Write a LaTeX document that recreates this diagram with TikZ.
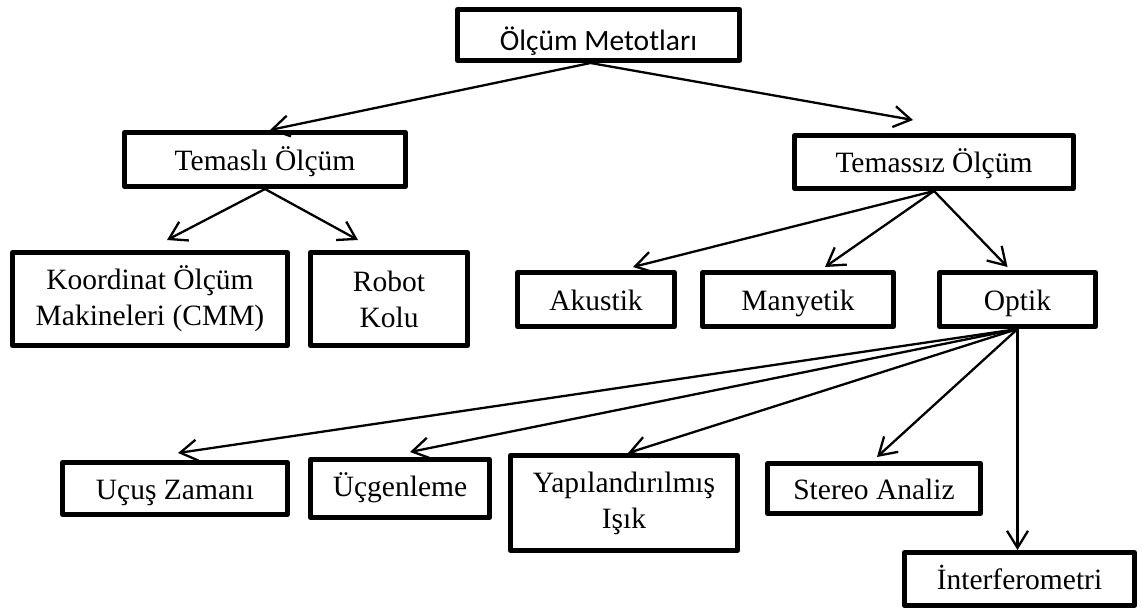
\documentclass[tikz,border=0pt]{standalone}
\usepackage{fontspec}
\setmainfont{Liberation Serif}
\newfontfamily\calibrifont{Carlito}
\usetikzlibrary{positioning}
\usetikzlibrary{arrows.meta}

\begin{document}
\begin{tikzpicture}[
                    x=1pt, y=-1pt,
                    line width=2.3pt,
                    ->, >={Straight Barb[length=17pt,width=21pt]},
                    kutu/.style={draw, rectangle, line width=5pt, line join=round,
                                 inner sep=2pt, align=center,
                                 font=\fontsize{29.5}{36}\selectfont},
                    tek/.style={text height=26pt, text depth=5pt}
                    ]
    \useasboundingbox (0,0) rectangle (1142,614);

    \node[kutu, minimum width=282pt, minimum height=51pt, text height=30pt, text depth=0pt,
          font=\calibrifont\fontsize{29.5}{36}\selectfont]              (metot)    at (598.5,35)  {Ölçüm Metotları};
    \node[kutu, tek, minimum width=281pt, minimum height=54pt]           (temasli)  at (265,159.5) {Temaslı Ölçüm};
    \node[kutu, tek, minimum width=279pt, minimum height=53pt]           (temassiz) at (934,162)   {Temassız Ölçüm};

    \node[kutu, minimum width=275pt, minimum height=93pt]                (koord)    at (150,299)   {Koordinat Ölçüm\\Makineleri (CMM)};
    \node[kutu, minimum width=157pt, minimum height=93pt, right=18pt of koord]         (robot)    {Robot\\Kolu};
    \node[kutu, tek, minimum width=157pt, minimum height=54pt]           (akustik)  at (596,299.5) {Akustik};
    \node[kutu, tek, minimum width=191pt, minimum height=54pt, right=23pt of akustik]  (manyetik) {Manyetik};
    \node[kutu, tek, minimum width=156pt, minimum height=54pt, right=41pt of manyetik] (optik)    {Optik};

    \node[kutu, tek, minimum width=225pt, minimum height=52pt]           (ucus)     at (175,488.5) {Uçuş Zamanı};
    \node[kutu, tek, minimum width=179pt, minimum height=58pt, right=18pt of ucus,
          text height=23pt, text depth=8pt]                              (ucgen)    {Üçgenleme};
    \node[kutu, minimum width=227pt, minimum height=95pt]                (yapi)     at (624,503)   {Yapılandırılmış\\Işık};
    \node[kutu, tek, minimum width=213pt, minimum height=50pt]           (stereo)   at (874,488.5) {Stereo Analiz};
    \node[kutu, tek, minimum width=230pt, minimum height=53pt]           (interf)   at (1019.5,579) {İnterferometri};

    % ust seviye
    \path ([xshift=-8pt]metot.south) edge ([xshift=5pt]temasli.north)
                                     edge ([xshift=-21pt,yshift=13pt]temassiz.north);

    \path (temasli.south)  edge ([xshift=17pt,yshift=10pt]koord.north)
                           edge ([xshift=-31pt,yshift=10pt]robot.north);

    \path (temassiz.south) edge ([xshift=37pt,yshift=3pt]akustik.north)
                           edge ([xshift=27pt,yshift=3pt]manyetik.north)
                           edge ([xshift=-10pt,yshift=3pt]optik.north);

    % optik yontemler
    \path (optik.south)    edge ([xshift=3pt,yshift=7pt]ucus.north)
                           edge ([xshift=10pt,yshift=5pt]ucgen.north)
                           edge ([xshift=4pt]yapi.north)
                           edge ([xshift=3pt,yshift=4pt]stereo.north)
                           edge (optik.south |- interf.north);
\end{tikzpicture}
\end{document}
